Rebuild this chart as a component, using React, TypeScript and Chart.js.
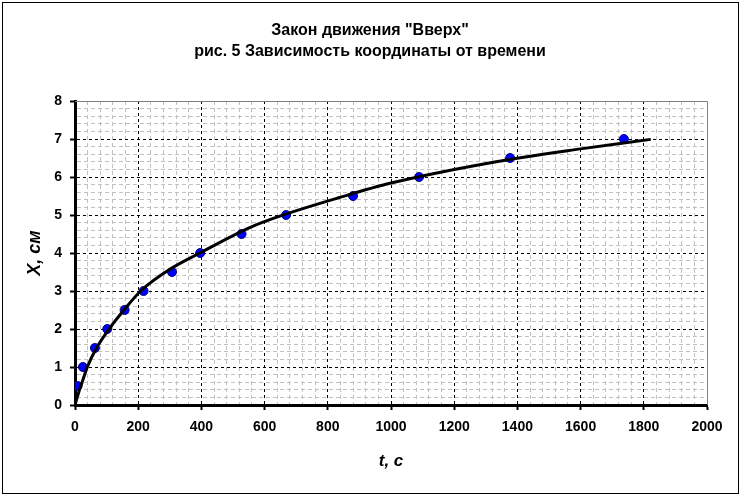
import React, { useEffect, useRef } from "react";
import { Chart, registerables } from "chart.js";

Chart.register(...registerables);

// measured points: time, s and coordinate, cm
const timeValues = [8, 25, 63, 102, 157, 217, 307, 396, 527, 668, 880, 1089, 1377, 1737];
const coordValues = [0.5, 1, 1.5, 2, 2.5, 3, 3.5, 4, 4.5, 5, 5.5, 6, 6.5, 7];

// trend line
const trendTime = [0, 7, 15, 25, 39, 68, 108, 155, 208, 300, 395, 553, 648, 837, 1000, 1311, 1600, 1822];
const trendCoord = [0, 0.2, 0.42, 0.66, 1.0, 1.5, 2.0, 2.5, 3.0, 3.57, 4.0, 4.67, 4.97, 5.46, 5.84, 6.37, 6.74, 6.99];

const titleLines = ['Закон движения "Вверх"', "рис. 5 Зависимость координаты от времени"];
const xTitle = "t, с";
const yTitle = "X, см";

const FONT = "'Liberation Sans', Arial, sans-serif";

const plotFrame = {
  id: "plotFrame",
  beforeDatasetsDraw(chart: any) {
    const { ctx, chartArea } = chart;
    ctx.save();
    ctx.strokeStyle = "#808080";
    ctx.lineWidth = 1;
    ctx.beginPath();
    ctx.moveTo(chartArea.left, Math.round(chartArea.top) + 0.5);
    ctx.lineTo(Math.round(chartArea.right) + 0.5, Math.round(chartArea.top) + 0.5);
    ctx.lineTo(Math.round(chartArea.right) + 0.5, chartArea.bottom);
    ctx.stroke();
    ctx.restore();
  }
};

const isMajorX = (v: number) => Math.abs(v % 200) < 1e-6;
const isMajorY = (v: number) => Math.abs(v - Math.round(v)) < 1e-6;

const App: React.FC = () => {
  const chartRef = useRef<HTMLCanvasElement>(null);
  const chartInstance = useRef<Chart>();

  useEffect(() => {
    if (!chartRef.current) return;
    const ctx = chartRef.current.getContext("2d");
    if (!ctx) return;
    if (chartInstance.current) chartInstance.current.destroy();

    const points = timeValues.map((t, i) => ({ x: t, y: coordValues[i] }));
    const trend = trendTime.map((t, i) => ({ x: t, y: trendCoord[i] }));

    chartInstance.current = new Chart(ctx, {
      type: "scatter",
      data: {
        datasets: [
          {
            label: "trend",
            data: trend,
            showLine: true,
            borderColor: "#000000",
            borderWidth: 3,
            pointRadius: 0,
            cubicInterpolationMode: "monotone",
            fill: false
          },
          {
            label: "X",
            data: points,
            pointRadius: 4.5,
            backgroundColor: "#0000ff",
            borderColor: "#000080",
            borderWidth: 1
          }
        ]
      },
      plugins: [plotFrame],
      options: {
        animation: false,
        responsive: false,
        layout: { padding: { left: 33, right: 35, top: 0, bottom: 0 } },
        plugins: {
          legend: { display: false },
          tooltip: { enabled: false },
          title: {
            display: true,
            text: titleLines,
            color: "#000",
            font: { family: FONT, size: 16, weight: "bold", lineHeight: "21px" },
            padding: { top: 20.5, bottom: 38.5 }
          }
        },
        scales: {
          x: {
            type: "linear",
            min: 0,
            max: 2000,
            afterFit: (scale: any) => {
              scale.height = 91;
            },
            ticks: {
              stepSize: 40,
              autoSkip: false,
              maxRotation: 0,
              padding: 9,
              color: "#000",
              font: { family: FONT, size: 14, weight: "bold" },
              callback: (v: any) => (isMajorX(Number(v)) ? String(v) : "")
            },
            grid: {
              color: (c: any) => {
                const v = c.tick ? c.tick.value : 0;
                if (v >= 2000) return "rgba(0,0,0,0)";
                return isMajorX(v) ? "#000000" : "#c0c0c0";
              },
              lineWidth: 1,
              tickLength: 5,
              tickWidth: 2,
              tickColor: (c: any) => (c.tick && isMajorX(c.tick.value) ? "#000" : "rgba(0,0,0,0)"),
              tickBorderDash: []
            },
            border: {
              display: true,
              color: "#000",
              width: 3,
              dash: (c: any) => (c.tick ? (isMajorX(c.tick.value) ? [3, 3] : [4, 3]) : [])
            },
            title: {
              display: true,
              text: xTitle,
              color: "#000",
              font: { family: FONT, size: 17, weight: "bold", style: "italic" },
              padding: { top: 0, bottom: 24 }
            }
          },
          y: {
            type: "linear",
            min: 0,
            max: 8,
            afterFit: (scale: any) => {
              scale.width = 42;
            },
            ticks: {
              stepSize: 0.2,
              autoSkip: false,
              padding: 8,
              color: "#000",
              font: { family: FONT, size: 14, weight: "bold" },
              callback: (v: any) => (isMajorY(Number(v)) ? String(Math.round(Number(v))) : "")
            },
            grid: {
              color: (c: any) => {
                const v = c.tick ? c.tick.value : 0;
                if (v >= 8 - 1e-6) return "rgba(0,0,0,0)";
                return isMajorY(v) ? "#000000" : "#c0c0c0";
              },
              lineWidth: 1,
              tickLength: 5,
              tickWidth: 2,
              tickColor: (c: any) => (c.tick && isMajorY(c.tick.value) ? "#000" : "rgba(0,0,0,0)"),
              tickBorderDash: []
            },
            border: {
              display: true,
              color: "#000",
              width: 3,
              dash: (c: any) => (c.tick ? (isMajorY(c.tick.value) ? [3, 3] : [4, 3]) : [])
            },
            title: {
              display: true,
              text: yTitle,
              color: "#000",
              font: { family: FONT, size: 18, weight: "bold", style: "italic" },
              padding: { top: -8.8, bottom: 0 }
            }
          }
        }
      } as any
    });

    return () => {
      if (chartInstance.current) {
        chartInstance.current.destroy();
        chartInstance.current = undefined;
      }
    };
  }, []);

  return (
    <div style={{ position: "fixed", left: 0, top: 0, width: 742, height: 496, background: "#fff" }}>
      <div
        style={{
          position: "absolute",
          left: 2,
          top: 2,
          width: 737,
          height: 492,
          boxSizing: "border-box",
          border: "1px solid #000"
        }}
      />
      <canvas
        ref={chartRef}
        width={742}
        height={496}
        style={{ position: "absolute", left: 0, top: 0, width: 742, height: 496 }}
      />
    </div>
  );
};

export default App;
